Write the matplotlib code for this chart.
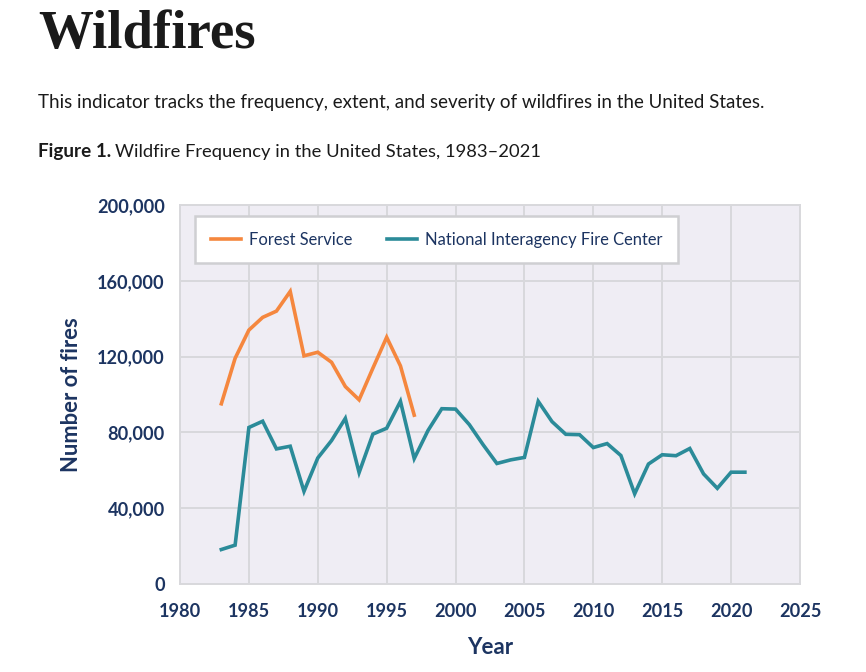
import matplotlib
matplotlib.use("Agg")
import matplotlib.pyplot as plt
from matplotlib.ticker import FuncFormatter

years_fs = list(range(1983, 1998))
forest_service = [95100, 119100, 134000, 140700, 144000, 154400, 120400, 122300,
                  117000, 104200, 97200, 113900, 130200, 115100, 89100]

years_nifc = list(range(1983, 2022))
nifc = [18200, 20500, 82600, 85900, 71300, 72700, 48900, 66500, 75700, 87400,
        58800, 79100, 82200, 96400, 66200, 81000, 92500, 92300, 84100, 73500,
        63600, 65500, 66800, 96400, 85700, 79000, 78800, 72000, 74100, 67800,
        47600, 63300, 68200, 67700, 71500, 58100, 50500, 59000, 59000]

x_ticks = list(range(1980, 2030, 5))
y_ticks = [0, 40000, 80000, 120000, 160000, 200000]

NAVY = "#1c3461"
ORANGE = "#f5873e"
TEAL = "#2b8b99"
BG = "#efedf4"
GRID = "#d8d8dc"
FONT = "Lato"

fig = plt.figure(figsize=(8.66, 6.72), dpi=100)
fig.patch.set_facecolor("white")

# Header texts
fig.text(38/866, 1 - 48/672, "Wildfires", fontsize=39.5, fontweight="bold",
         family="Liberation Serif", color="#1a1a1a", va="baseline", ha="left")
fig.text(38/866, 1 - 108/672,
         "This indicator tracks the frequency, extent, and severity of wildfires in the United States.",
         fontsize=13.5, family=FONT, color="#1a1a1a", va="baseline", ha="left")
t1 = fig.text(38/866, 1 - 157/672, "Figure 1.", fontsize=13.6, family=FONT,
              fontweight="bold", color="#1a1a1a", va="baseline", ha="left")
fig.canvas.draw()
bb = t1.get_window_extent()
fig.text(bb.x1/866 + 4/866, 1 - 157/672, "Wildfire Frequency in the United States, 1983\u20132021",
         fontsize=13.2, family=FONT, color="#1a1a1a", va="baseline", ha="left")

ax = fig.add_axes([180/866, 88/672, 620/866, 379/672])
ax.set_facecolor(BG)
ax.plot(years_fs, forest_service, color=ORANGE, lw=2.6, label="Forest Service",
        solid_joinstyle="miter", zorder=3)
ax.plot(years_nifc, nifc, color=TEAL, lw=2.6, label="National Interagency Fire Center",
        solid_joinstyle="miter", zorder=3)

ax.set_xlim(1980, 2025)
ax.set_ylim(0, 200000)
ax.set_xticks(x_ticks)
ax.set_yticks(y_ticks)
ax.yaxis.set_major_formatter(FuncFormatter(lambda v, p: f"{int(v):,}"))
ax.grid(True, color=GRID, lw=1.4, zorder=0)
ax.set_axisbelow(True)
for s in ax.spines.values():
    s.set_color(GRID)
    s.set_linewidth(1.4)
ax.tick_params(axis="y", length=0, pad=11, colors=NAVY)
ax.tick_params(axis="x", length=0, pad=14, colors=NAVY)
for lab in ax.get_xticklabels() + ax.get_yticklabels():
    lab.set_fontfamily(FONT)
    lab.set_fontweight("bold")
    lab.set_fontsize(13.1)
    lab.set_color(NAVY)

ax.set_xlabel("Year", fontsize=16, fontweight="bold", family=FONT, color=NAVY, labelpad=12)
ax.set_ylabel("Number of fires", fontsize=15.8, fontweight="bold", family=FONT, color=NAVY, labelpad=11)

leg = ax.legend(loc="upper left", bbox_to_anchor=(15/620, 1 - 11/379), ncol=2,
                frameon=True, fancybox=False, borderpad=0.95, borderaxespad=0,
                handlelength=1.85, columnspacing=2.1, handletextpad=0.45,
                prop={"family": FONT, "size": 11.9})
leg.get_frame().set_edgecolor("#cfcfd2")
leg.get_frame().set_linewidth(1.8)
leg.get_frame().set_facecolor("white")
leg.get_frame().set_alpha(1)
for t in leg.get_texts():
    t.set_color(NAVY)

fig.savefig("out.png", dpi=100, facecolor="white")
